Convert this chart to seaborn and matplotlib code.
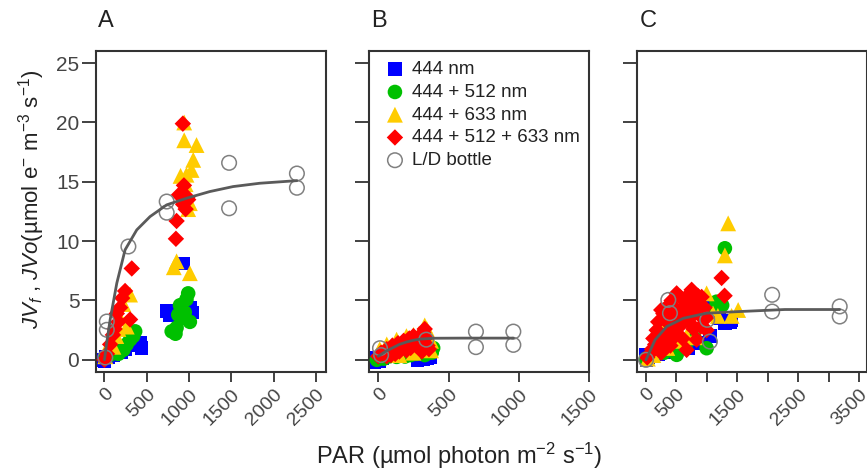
import matplotlib
matplotlib.use("Agg")
import matplotlib.pyplot as plt
import numpy as np
import pandas as pd
import seaborn as sns

sns.set_theme(style="white")
plt.rcParams['font.family'] = ['Liberation Sans', 'DejaVu Sans']
plt.rcParams['mathtext.fontset'] = 'custom'
plt.rcParams['mathtext.rm'] = 'Liberation Sans'
plt.rcParams['mathtext.it'] = 'Liberation Sans:italic'
plt.rcParams['mathtext.bf'] = 'Liberation Sans:bold'

# ---------------- data ----------------
labels = ["444 nm", "444 + 512 nm", "444 + 633 nm", "444 + 512 + 633 nm", "L/D bottle"]

# Panel A
a_blue_x = [-40, 0, 20, 40, 70, 100, 150, 200, 250, 380, 420, 440, 740, 770, 930, 1010, 1040]
a_blue_y = [0.0, -0.1, 0.3, 0.2, 0.5, 0.4, 0.6, 0.6, 0.9, 1.2, 1.4, 1.0, 4.1, 3.8, 8.1, 4.4, 4.0]
a_green_x = [20, 60, 100, 140, 165, 200, 224, 263, 303, 340, 363, 795, 853, 873, 893, 912, 950, 970, 990, 1010, 840]
a_green_y = [0.2, 0.4, 0.6, 0.7, 0.5, 1.0, 0.84, 1.3, 1.7, 2.0, 2.4, 2.4, 2.7, 3.8, 4.6, 3.5, 4.0, 5.1, 5.6, 3.2, 2.2]
a_yellow_x = [10, 67, 106, 140, 165, 185, 224, 264, 303, 853, 820, 1010, 943, 943, 1089, 1050, 1030, 970, 900, 960, 990, 1010]
a_yellow_y = [0.3, 1.5, 1.1, 2.0, 2.6, 3.5, 4.7, 2.8, 5.5, 8.3, 7.8, 7.3, 20.0, 18.5, 18.1, 16.85, 16.0, 15.6, 15.5, 14.8, 12.7, 13.2]
a_red_x = [0, 30, 67, 100, 120, 146, 165, 185, 210, 244, 303, 323, 927, 940, 880, 980, 930, 990, 960, 853, 845]
a_red_y = [0.0, 0.5, 1.3, 2.1, 2.6, 3.9, 3.2, 4.4, 5.2, 5.8, 3.4, 7.7, 19.9, 14.7, 13.9, 13.7, 13.1, 13.5, 12.7, 11.7, 10.2]
a_ld_x = [10, 28, 28, 283, 736, 736, 1474, 1474, 2276, 2276]
a_ld_y = [0.2, 3.23, 2.53, 9.55, 13.34, 12.4, 16.6, 12.77, 15.7, 14.5]
a_fit_x = [0, 28, 67, 146, 244, 382, 539, 736, 972, 1246, 1521, 1836, 2276]
a_fit_y = [0.0, 1.5, 3.37, 6.46, 9.27, 10.95, 12.07, 13.06, 13.62, 14.18, 14.6, 14.88, 15.1]

# Panel B
b_blue_x = [-30, -10, 10, 30, 50, 280, 300, 320, 350, 370]
b_blue_y = [-0.2, 0.2, -0.1, 0.1, 0.3, 0.0, 0.15, 0.05, 0.1, 0.2]
b_green_x = [-10, 40, 80, 130, 190, 230, 270, 330, 380, 390]
b_green_y = [0.0, 0.1, 0.3, 0.25, 0.28, 0.4, 0.5, 0.4, 0.6, 1.0]
b_yellow_x = [10, 60, 130, 200, 250, 290, 330, 345, 375, 375, 250, 150]
b_yellow_y = [0.9, 1.3, 1.7, 2.0, 2.1, 2.2, 2.9, 2.6, 1.6, 0.8, 0.6, 0.4]
b_red_x = [0, 20, 40, 60, 80, 100, 120, 140, 160, 180, 200, 220, 240, 250, 270, 300, 320, 330, 340, 350,
           360, 300, 200, 120, 60, 90, 150, 230, 280, 310, 170]
b_red_y = [0.3, 0.6, 0.5, 0.9, 0.7, 1.2, 1.0, 1.4, 1.1, 1.6, 1.3, 1.8, 1.5, 2.0, 1.2, 1.6, 2.3, 2.6, 1.9, 1.2,
           0.9, 1.0, 0.8, 0.5, 0.3, 0.4, 0.7, 1.0, 1.8, 0.7, 1.3]
b_ld_x = [12, 20, 341, 694, 694, 960, 960]
b_ld_y = [0.98, 0.4, 1.7, 2.38, 1.07, 2.38, 1.26]
b_fit_x = [0, 50, 100, 150, 200, 250, 300, 400, 600, 960]
b_fit_y = [0.3, 0.7, 1.0, 1.3, 1.5, 1.65, 1.75, 1.82, 1.83, 1.83]

# Panel C
c_blue_x = [-10, 10, 40, 100, 200, 350, 500, 700, 885, 1049, 1100, 1200, 1295, 1377, 1400]
c_blue_y = [0.4, 0.0, 0.2, 0.3, 0.5, 0.6, 0.9, 1.0, 1.4, 2.0, 4.6, 3.5, 3.1, 3.2, 3.3]
c_green_x = [0, 100, 300, 503, 650, 800, 995, 1104, 1159, 1250, 1295]
c_green_y = [0.1, 0.3, 0.6, 0.42, 1.0, 1.8, 0.98, 4.2, 4.9, 4.6, 9.4]
c_yellow_x = [30, 120, 250, 300, 350, 500, 560, 667, 800, 913, 995, 1100, 1180, 1295, 1349, 1405, 1513]
c_yellow_y = [0.1, 0.4, 2.8, 3.5, 1.0, 2.3, 1.6, 2.0, 1.9, 4.35, 5.6, 3.9, 3.7, 8.8, 11.5, 3.7, 4.2]
c_red_x = [20, 60, 100, 150, 175, 200, 250, 284, 300, 330, 350, 380, 400, 430, 450, 503, 520, 550, 600, 620,
           667, 680, 749, 760, 800, 831, 850, 913, 950, 995, 1000, 1241, 1290, 250, 400, 600,
           120, 200, 250, 330, 420, 470, 560, 640, 700, 720, 780, 860, 900, 960, 700, 560, 480, 350, 300]
c_red_y = [0.2, 0.5, 0.9, 1.3, 2.5, 2.4, 1.8, 3.9, 3.4, 2.2, 3.9, 4.6, 3.0, 2.4, 3.6, 5.6, 4.0, 2.8, 4.4, 3.6,
           0.84, 5.0, 5.9, 4.8, 3.9, 1.7, 5.4, 5.3, 3.4, 2.5, 3.6, 6.9, 5.4, 0.6, 1.2, 1.8,
           1.8, 3.2, 4.2, 4.4, 5.0, 4.4, 5.3, 5.0, 4.2, 3.1, 2.6, 4.6, 2.8, 4.4, 5.5, 3.2, 2.0, 1.5, 0.9]
c_ld_x = [0, 366, 393, 1005, 1049, 2071, 2071, 3180, 3180]
c_ld_y = [0.0, 5.05, 3.93, 3.37, 1.54, 5.48, 4.07, 4.5, 3.65]
c_fit_x = [0, 148, 339, 612, 995, 1541, 2279, 3180]
c_fit_y = [0.0, 1.68, 2.8, 3.5, 3.93, 4.07, 4.24, 4.24]

panel_letters = ["A", "B", "C"]
a_ticks = [0, 500, 1000, 1500, 2000, 2500]
a_ticklabels = ["0", "500", "1000", "1500", "2000", "2500"]
b_ticks = [0, 500, 1000, 1500]
b_ticklabels = ["0", "500", "1000", "1500"]
c_ticks = [0, 500, 1000, 1500, 2000, 2500, 3000, 3500]
c_ticklabels = ["0", "500", "", "1500", "", "2500", "", "3500"]
y_ticks = [0, 5, 10, 15, 20, 25]

# ---------------- styles ----------------
colors = ["#0000FF", "#00C000", "#FFCC00", "#FF0000"]
markers = ["s", "o", "^", "D"]
sizes = [95, 110, 130, 70]
ld_edge = "#808080"
axcol = "#333333"

W, H = 867, 473
fig = plt.figure(figsize=(W / 100, H / 100), dpi=100)

def frac_box(x0, x1, y0=50.7, y1=371.7):
    return [x0 / W, 1 - y1 / H, (x1 - x0) / W, (y1 - y0) / H]

axA = fig.add_axes(frac_box(96, 326))
axB = fig.add_axes(frac_box(369.3, 589.3))
axC = fig.add_axes(frac_box(637.3, 866.5))

panels = [
    (axA, [(a_blue_x, a_blue_y), (a_green_x, a_green_y), (a_yellow_x, a_yellow_y), (a_red_x, a_red_y)],
     (a_ld_x, a_ld_y), (a_fit_x, a_fit_y), (-100, 2620), a_ticks, a_ticklabels),
    (axB, [(b_blue_x, b_blue_y), (b_green_x, b_green_y), (b_yellow_x, b_yellow_y), (b_red_x, b_red_y)],
     (b_ld_x, b_ld_y), (b_fit_x, b_fit_y), (-64, 1500), b_ticks, b_ticklabels),
    (axC, [(c_blue_x, c_blue_y), (c_green_x, c_green_y), (c_yellow_x, c_yellow_y), (c_red_x, c_red_y)],
     (c_ld_x, c_ld_y), (c_fit_x, c_fit_y), (-143, 3620), c_ticks, c_ticklabels),
]

for i, (ax, series, ld, fit, xlim, xt, xtl) in enumerate(panels):
    for j, (xs, ys) in enumerate(series):
        df = pd.DataFrame({"x": xs, "y": ys})
        sns.scatterplot(data=df, x="x", y="y", ax=ax, color=colors[j], marker=markers[j],
                        s=sizes[j], linewidth=0, edgecolor="none", label=labels[j], zorder=2 + j)
    dld = pd.DataFrame({"x": ld[0], "y": ld[1]})
    sns.scatterplot(data=dld, x="x", y="y", ax=ax, marker="o", s=110, facecolors="none",
                    edgecolor=ld_edge, linewidth=1.1, label=labels[4], zorder=7)
    dfit = pd.DataFrame({"x": fit[0], "y": fit[1]})
    sns.lineplot(data=dfit, x="x", y="y", ax=ax, color="#5a5a5a", linewidth=2.0,
                 sort=False, estimator=None, zorder=8, legend=False)
    ax.set_xlim(*xlim)
    ax.set_ylim(-1, 26.05)
    ax.set_xticks(xt)
    ax.set_xticklabels(xtl, rotation=45, ha="right", rotation_mode="anchor")
    ax.set_yticks(y_ticks)
    if i == 0:
        ax.set_yticklabels([str(v) for v in y_ticks])
    else:
        ax.set_yticklabels([])
    ax.set_xlabel("")
    ax.set_ylabel("")
    for sp in ax.spines.values():
        sp.set_color(axcol)
        sp.set_linewidth(1.5)
    ax.tick_params(axis="x", which="both", bottom=True, length=7, width=1.3, color=axcol,
                   labelsize=14, labelcolor="#444444", pad=3)
    ax.tick_params(axis="y", which="both", left=True, length=10, width=1.3, color=axcol,
                   labelsize=15, labelcolor="#444444", pad=2)
    if i != 1:
        ax.get_legend().remove()
    fig.text(ax.get_position().x0 + 2 / W, 1 - 27 / H, panel_letters[i], fontsize=17,
             color="#222222", ha="left", va="baseline")

leg = axB.legend(loc="upper left", bbox_to_anchor=(0.01, 1.0), frameon=False, fontsize=13.5,
                 handletextpad=0.2, labelspacing=0.3, borderaxespad=0.4, handlelength=1.4,
                 borderpad=0.15)
for t in leg.get_texts():
    t.set_color("#222222")

fig.text(32 / W, 1 - 199 / H, r"$JV_f$ , $JVo$(µmol e$^{-}$ m$^{-3}$ s$^{-1}$)",
         rotation=90, ha="center", va="center", fontsize=16, color="#222222")
fig.text(459 / W, 1 - 463.5 / H, r"PAR (µmol photon m$^{-2}$ s$^{-1}$)",
         ha="center", va="baseline", fontsize=17, color="#222222")

fig.savefig("out.png", dpi=100)
